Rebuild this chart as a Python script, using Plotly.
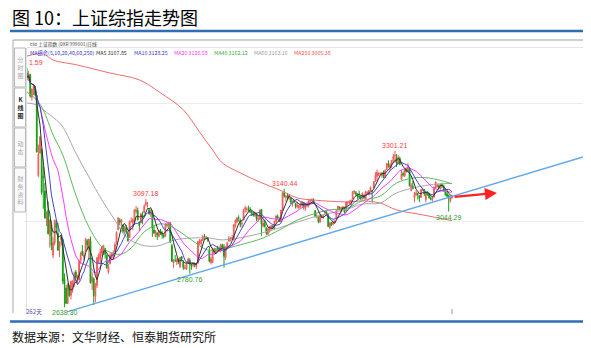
import pandas as pd
import plotly.graph_objects as go

# ---- daily OHLC of the Shanghai Composite (262 sessions) ----
opens = [
    3631, 3605, 3625, 3528, 3566, 3570, 3536, 3196, 3292, 3309,
    3194, 3131, 3011, 3050, 2940, 2988, 2860, 2911, 2995, 2952,
    2891, 2923, 2925, 2759, 2720, 2654, 2730, 2689, 2730, 2735,
    2788, 2742, 2754, 2839, 2876, 2852, 2875, 2920, 2893, 2919,
    2746, 2759, 2684, 2730, 2836, 2844, 2867, 2880, 2887, 2860,
    2789, 2823, 2846, 2857, 2874, 2911, 2968, 3006, 3000, 2988,
    2962, 2974, 2951, 2934, 3002, 2998, 2995, 3044, 3048, 2996,
    2996, 3029, 3040, 3074, 3077, 3051, 3033, 3040, 2966, 2938,
    2954, 2938, 2960, 2952, 2943, 2940, 2985, 2985, 2996, 2900,
    2827, 2838, 2833, 2840, 2810, 2853, 2830, 2804, 2800, 2830,
    2838, 2818, 2818, 2820, 2812, 2825, 2909, 2908, 2923, 2937,
    2931, 2934, 2878, 2828, 2828, 2879, 2872, 2890, 2888, 2878,
    2902, 2894, 2849, 2890, 2918, 2927, 2931, 2924, 2983, 3000,
    3018, 3006, 2993, 3009, 3052, 3053, 3057, 3046, 3041, 3036,
    3027, 3034, 3011, 3012, 3053, 2984, 2994, 2975, 2949, 2960,
    2976, 2983, 2974, 3003, 3023, 3009, 3000, 3048, 3123, 3104,
    3108, 3103, 3101, 3078, 3090, 3076, 3064, 3061, 3071, 3070,
    3082, 3058, 3069, 3070, 3088, 3090, 3093, 3048, 3020, 3018,
    3000, 3026, 3019, 3040, 3040, 3030, 2976, 2995, 2992, 2998,
    3017, 3050, 3062, 3048, 3056, 3061, 3048, 3082, 3083, 3083,
    3098, 3126, 3124, 3117, 3110, 3105, 3101, 3112, 3097, 3124,
    3120, 3135, 3129, 3143, 3172, 3192, 3201, 3203, 3198, 3209,
    3188, 3223, 3245, 3232, 3242, 3264, 3279, 3273, 3246, 3269,
    3180, 3205, 3195, 3223, 3214, 3222, 3132, 3150, 3103, 3115,
    3120, 3112, 3104, 3135, 3137, 3095, 3122, 3120, 3100, 3096,
    3105, 3143, 3150, 3153, 3140, 3158, 3150, 3128, 3118, 3113, 3090, 3102,
]
highs = [
    3651.59, 3640, 3628, 3565, 3580, 3576, 3539, 3328, 3362, 3309,
    3235, 3166, 3045, 3086, 3011, 3006, 2935, 3008, 3010, 2996,
    2918, 2939, 2929, 2781, 2733, 2739, 2734, 2750, 2753, 2790,
    2796, 2776, 2840, 2874, 2902, 2874, 2933, 2927, 2928, 2938,
    2786, 2765, 2742, 2850, 2866, 2887, 2898, 2901, 2888, 2861,
    2822, 2867, 2870, 2880, 2914, 2960, 3018, 3016, 3011, 2988,
    2982, 2987, 2960, 3006, 3019, 3016, 3055, 3068, 3061, 3003,
    3038, 3044, 3075, 3097.18, 3085, 3058, 3053, 3051, 2986, 2966,
    2954, 2965, 2970, 2962, 2949, 2993, 2999, 3000, 3000, 2908,
    2842, 2860, 2846, 2846, 2851, 2855, 2838, 2818, 2829, 2849,
    2846, 2824, 2829, 2828, 2826, 2919, 2928, 2926, 2945, 2949,
    2941, 2934, 2895, 2852, 2892, 2890, 2890, 2899, 2896, 2906,
    2908, 2906, 2896, 2916, 2940, 2936, 2945, 2990, 3011, 3020,
    3028, 3015, 3003, 3055, 3069, 3063, 3069, 3063, 3049, 3045,
    3042, 3038, 3025, 3052, 3055, 3009, 3008, 2978, 2972, 2983,
    2987, 2987, 3004, 3026, 3032, 3020, 3050, 3125, 3140.44, 3115,
    3123, 3118, 3104, 3090, 3094, 3082, 3084, 3071, 3083, 3086,
    3082, 3071, 3085, 3091, 3098, 3100, 3100, 3048, 3036, 3024,
    3032, 3030, 3029, 3048, 3046, 3032, 2998, 3000, 3002, 3009,
    3049, 3068, 3066, 3064, 3068, 3065, 3085, 3089, 3092, 3096,
    3131, 3135, 3131, 3121, 3133, 3112, 3124, 3117, 3130, 3130,
    3135, 3150, 3135, 3172, 3211, 3222, 3210, 3210, 3211, 3218,
    3223, 3248, 3261, 3251, 3262, 3288, 3301.21, 3288, 3283, 3277,
    3219, 3214, 3223, 3227, 3249, 3230, 3165, 3173, 3127, 3135,
    3125, 3114, 3138, 3146, 3140, 3124, 3130, 3124, 3107, 3108,
    3150, 3172, 3162, 3160, 3163, 3166, 3158, 3135, 3130, 3115, 3109, 3116,
]
lows = [
    3600, 3597, 3527, 3515, 3538, 3533, 3295, 3190, 3289, 3115,
    3056, 3016, 2983, 2949, 2891, 2880, 2846, 2901, 2952, 2880,
    2851, 2900, 2737, 2638.30, 2653, 2654, 2683, 2672, 2700, 2725,
    2752, 2737, 2752, 2822, 2856, 2838, 2875, 2881, 2841, 2740,
    2711, 2648, 2660, 2720, 2823, 2828, 2855, 2860, 2845, 2803,
    2780, 2820, 2839, 2847, 2868, 2904, 2965, 2985, 2983, 2951,
    2946, 2953, 2917, 2934, 2997, 2965, 2993, 3036, 3006, 2961,
    2996, 2990, 3036, 3066, 3061, 3031, 3022, 2937, 2949, 2935,
    2924, 2935, 2945, 2930, 2930, 2937, 2976, 2970, 2913, 2830,
    2806, 2830, 2817, 2821, 2805, 2833, 2797, 2799, 2797, 2826,
    2780.76, 2798, 2808, 2808, 2800, 2825, 2903, 2893, 2919, 2924,
    2927, 2916, 2829, 2820, 2828, 2861, 2868, 2878, 2874, 2871,
    2886, 2807, 2839, 2885, 2918, 2918, 2924, 2922, 2976, 2995,
    3002, 2977, 2978, 3009, 3040, 3040, 3046, 3038, 3025, 3023,
    3021, 3003, 3000, 3011, 2941, 2977, 2977, 2944, 2944, 2955,
    2964, 2970, 2968, 2998, 3012, 2999, 3000, 3046, 3103, 3086,
    3097, 3094, 3076, 3065, 3079, 3057, 3057, 3055, 3060, 3061,
    3052, 3047, 3063, 3061, 3079, 3088, 3076, 3019, 3017, 2994,
    2996, 3017, 3012, 3032, 3029, 2980, 2969, 2983, 2986, 2994,
    3016, 3049, 3050, 3040, 3049, 3037, 3046, 3070, 3075, 3072,
    3098, 3118, 3112, 3098, 3102, 3092, 3094, 3096, 3097, 3116,
    3112, 3130, 3082, 3143, 3170, 3173, 3194, 3196, 3186, 3185,
    3187, 3220, 3230, 3215, 3227, 3255, 3251, 3233, 3246, 3240,
    3180, 3192, 3190, 3209, 3210, 3151, 3132, 3139, 3083, 3110,
    3095, 3084, 3103, 3131, 3110, 3083, 3112, 3100, 3091, 3087,
    3105, 3140, 3146, 3140, 3138, 3146, 3130, 3112, 3106, 3044.29, 3082, 3098,
]
closes = [
    3612, 3627, 3533, 3563, 3573, 3539, 3296, 3287, 3361, 3125,
    3186, 3016, 3022, 2949, 3007, 2900, 2913, 3008, 2976, 2880,
    2916, 2938, 2749, 2735, 2655, 2737, 2688, 2749, 2739, 2781,
    2763, 2746, 2836, 2867, 2862, 2860, 2927, 2903, 2928, 2741,
    2767, 2688, 2733, 2849, 2859, 2874, 2897, 2901, 2863, 2805,
    2810, 2859, 2864, 2870, 2905, 2955, 3018, 2999, 3010, 2960,
    2979, 2957, 2920, 3000, 3003, 3009, 3053, 3050, 3009, 2985,
    3034, 3023, 3066, 3082, 3078, 3034, 3043, 2973, 2953, 2960,
    2946, 2964, 2954, 2945, 2938, 2992, 2991, 2998, 2913, 2833,
    2832, 2837, 2836, 2827, 2850, 2843, 2807, 2806, 2825, 2843,
    2821, 2815, 2822, 2817, 2823, 2917, 2913, 2925, 2938, 2934,
    2936, 2927, 2834, 2843, 2887, 2873, 2885, 2888, 2878, 2905,
    2892, 2854, 2895, 2912, 2931, 2930, 2933, 2988, 3007, 3017,
    3016, 2989, 2994, 3049, 3060, 3054, 3055, 3043, 3037, 3028,
    3039, 3013, 3015, 3051, 2992, 2994, 2979, 2953, 2971, 2978,
    2982, 2977, 3004, 3026, 3018, 3002, 3050, 3125, 3110, 3110,
    3104, 3108, 3085, 3089, 3085, 3068, 3070, 3070, 3075, 3085,
    3063, 3068, 3073, 3090, 3092, 3095, 3078, 3022, 3023, 3002,
    3026, 3023, 3026, 3042, 3033, 2980, 2998, 2988, 2999, 3005,
    3048, 3066, 3058, 3062, 3064, 3041, 3084, 3085, 3084, 3091,
    3129, 3129, 3117, 3112, 3105, 3100, 3123, 3102, 3129, 3125,
    3133, 3147, 3128, 3171, 3197, 3210, 3207, 3205, 3208, 3192,
    3218, 3248, 3241, 3241, 3262, 3277, 3282, 3250, 3273, 3244,
    3204, 3199, 3222, 3215, 3232, 3152, 3155, 3140, 3117, 3123,
    3118, 3103, 3137, 3139, 3120, 3122, 3114, 3102, 3096, 3104,
    3146.1, 3169, 3155, 3145, 3160, 3150, 3133.25, 3114.5, 3109, 3103, 3104.25, 3108.5,
]
assert len(opens) == len(highs) == len(lows) == len(closes) == 262
days = list(range(len(closes)))

# ---- slow moving averages as shown by the terminal ----
ma40_days = [0, 6, 10, 16, 22, 30, 38, 46, 52, 58, 64, 72, 82, 89, 101, 111, 121, 131,
             145, 155, 166, 176, 186, 197, 206, 217, 227, 237, 247, 261]
ma40_vals = [3551, 3517, 3475, 3369, 3284, 3114, 2979, 2894, 2869, 2864, 2890, 2958, 2992,
             2979, 2924, 2881, 2886, 2903, 2932, 2966, 3008, 3034, 3051, 3059, 3090, 3110,
             3165, 3186, 3186, 3162.12]
ma60_days = [0, 6, 10, 18, 22, 30, 38, 46, 54, 61, 70, 80, 91, 101, 112, 120, 137, 155,
             176, 197, 206, 217, 227, 247, 261]
ma60_vals = [3504, 3496, 3475, 3432, 3403, 3292, 3191, 3093, 3008, 2936, 2903, 2898, 2924,
             2932, 2932, 2924, 2941, 2975, 3021, 3055, 3076, 3080, 3123, 3157, 3163.16]
ma250_days = [0, 10, 16, 31, 51, 69, 82, 96, 106, 114, 120, 131, 143, 155, 166, 176, 197,
              206, 217, 227, 243, 261]
ma250_vals = [3703, 3712, 3686, 3665, 3631, 3602, 3547, 3475, 3381, 3305, 3250, 3208, 3169,
              3136, 3102, 3093, 3085, 3089, 3080, 3051, 3030, 3005.38]

# ---- support line and projected move ----
trend_days = [24.6, 341.5]
trend_prices = [2619, 3275]
arrow_days = [261.7, 288.7]
arrow_prices = [3106, 3123]

peak_days = [0, 73, 158, 226]
trough_days = [23, 100, 259]

# ---- fast moving averages from the closes ----
s = pd.Series(closes)
ma5 = s.rolling(5, min_periods=1).mean()
ma10 = s.rolling(10, min_periods=1).mean()
ma20 = s.rolling(20, min_periods=1).mean()

W, H = 591, 348
L, R, T, B = 24, 583, 40, 318


def fx(px):
    return (px - L) / (R - L)


def fy(py):
    return (B - py) / (B - T)


CJK = "Noto Sans CJK SC"
RED_UP = "#f05a5a"
GREEN_DN = "#10a010"

fig = go.Figure()

fig.add_trace(go.Candlestick(
    x=days, open=opens, high=highs, low=lows, close=closes,
    increasing=dict(line=dict(color=RED_UP, width=1), fillcolor="#f58c8c"),
    decreasing=dict(line=dict(color=GREEN_DN, width=1), fillcolor=GREEN_DN),
    whiskerwidth=0, showlegend=False, hoverinfo="skip",
))

line_specs = [
    (ma250_days, ma250_vals, "#f26b6b", True),
    (ma60_days, ma60_vals, "#a8a8a8", True),
    (ma40_days, ma40_vals, "#5cb85c", True),
    (days, ma20, "#ff3cff", False),
    (days, ma10, "#4646c8", False),
    (days, ma5, "#303030", False),
]
for xs, ys, col, smooth in line_specs:
    fig.add_trace(go.Scatter(
        x=xs, y=ys, mode="lines",
        line=dict(color=col, width=1, shape="spline" if smooth else "linear"),
        showlegend=False, hoverinfo="skip",
    ))

fig.add_trace(go.Scatter(
    x=trend_days, y=trend_prices, mode="lines",
    line=dict(color="#62a8f0", width=1.5), showlegend=False, hoverinfo="skip",
))

annotations = []
for i, d in enumerate(peak_days):
    txt = f"{highs[d]:.2f}"
    if i == 0:
        annotations.append(dict(x=d, y=highs[d], xref="x", yref="y", text=txt[-4:],
                                showarrow=False, xanchor="left", yanchor="bottom",
                                yshift=0, font=dict(size=7, color="#ff4040",
                                                    family="Liberation Sans")))
    else:
        annotations.append(dict(x=d, y=highs[d], xref="x", yref="y", text=txt,
                                showarrow=False, xanchor="center", yanchor="bottom",
                                yshift=0, font=dict(size=7, color="#ff4040",
                                                    family="Liberation Sans")))
for d in trough_days:
    annotations.append(dict(x=d, y=lows[d], xref="x", yref="y", text=f"{lows[d]:.2f}",
                            showarrow=False, xanchor="center", yanchor="top", yshift=0,
                            font=dict(size=7, color="#30a030", family="Liberation Sans")))

# projected move arrow
annotations.append(dict(x=arrow_days[1], y=arrow_prices[1], ax=arrow_days[0],
                        ay=arrow_prices[0], xref="x", yref="y", axref="x", ayref="y",
                        text="", showarrow=True, arrowhead=2, arrowsize=1.1,
                        arrowwidth=2.2, arrowcolor="#ff2020"))

# page title and source
annotations.append(dict(x=fx(10), y=fy(16.5), xref="paper", yref="paper",
                        text="图 10：上证综指走势图", showarrow=False, xanchor="left",
                        yanchor="middle", font=dict(size=18, color="#000000", family=CJK)))
annotations.append(dict(x=fx(10), y=fy(336), xref="paper", yref="paper",
                        text="数据来源：文华财经、恒泰期货研究所", showarrow=False,
                        xanchor="left", yanchor="middle",
                        font=dict(size=12, color="#111111", family=CJK)))

# terminal header rows
annotations.append(dict(x=fx(28), y=fy(44), xref="paper", yref="paper",
                        text="cto 上证指数 (0XR 999001)日线", showarrow=False,
                        xanchor="left", yanchor="middle",
                        font=dict(size=4.8, color="#444444", family=CJK)))
header_items = [
    (28, "MA组合(5,10,20,40,60,250)", "#3c3cc8"),
    (94, f"MA5 {ma5.iloc[-1]:.2f}", "#303030"),
    (132, f"MA10 {ma10.iloc[-1]:.2f}", "#3c3cc8"),
    (172, f"MA20 {ma20.iloc[-1]:.2f}", "#ff30ff"),
    (212, f"MA40 {ma40_vals[-1]:.2f}", "#3aaa3a"),
    (252, f"MA60 {ma60_vals[-1]:.2f}", "#999999"),
    (292, f"MA250 {ma250_vals[-1]:.2f}", "#ff5050"),
]
for px, txt, col in header_items:
    annotations.append(dict(x=fx(px), y=fy(52.5), xref="paper", yref="paper", text=txt,
                            showarrow=False, xanchor="left", yanchor="middle",
                            font=dict(size=5.3, color=col, family=CJK)))

annotations.append(dict(x=fx(24), y=fy(311), xref="paper", yref="paper",
                        text=f"{len(closes)}天", showarrow=False, xanchor="left",
                        yanchor="middle", font=dict(size=6, color="#5050b0", family=CJK)))

# side tabs
shapes = []
tabs = [("分时图", 48, 87, False), ("K线图", 88, 127, True),
        ("动态", 128, 167, False), ("财务资料", 168, 212, False)]
for name, y0, y1, active in tabs:
    shapes.append(dict(type="rect", xref="paper", yref="paper", x0=fx(14.5), x1=fx(25.5),
                       y0=fy(y1), y1=fy(y0), line=dict(color="#b8b8b8", width=1),
                       fillcolor="#ffffff" if active else "#fafafa", layer="above"))
    annotations.append(dict(x=fx(20), y=fy((y0 + y1) / 2), xref="paper", yref="paper",
                            text=("<b>" + "<br>".join(name) + "</b>") if active
                            else "<br>".join(name),
                            showarrow=False, xanchor="center", yanchor="middle",
                            width=9,
                            font=dict(size=6, color="#222222" if active else "#a8a8a8",
                                      family=CJK)))

# frame lines
shapes += [
    dict(type="line", xref="paper", yref="paper", x0=fx(10), x1=fx(583), y0=fy(31),
         y1=fy(31), line=dict(color="#2f6db5", width=2.5)),
    dict(type="line", xref="paper", yref="paper", x0=fx(10), x1=fx(583), y0=fy(321.5),
         y1=fy(321.5), line=dict(color="#2f6db5", width=2.5)),
    dict(type="line", xref="paper", yref="paper", x0=fx(13), x1=fx(583), y0=fy(40),
         y1=fy(40), line=dict(color="#a0a0a0", width=1.2)),
    dict(type="line", xref="paper", yref="paper", x0=fx(27), x1=fx(583), y0=fy(47.5),
         y1=fy(47.5), line=dict(color="#e6e6e6", width=1)),
    dict(type="line", xref="paper", yref="paper", x0=fx(13), x1=fx(13), y0=fy(40),
         y1=fy(313), line=dict(color="#a8a8a8", width=1)),
    dict(type="line", xref="paper", yref="paper", x0=fx(26.5), x1=fx(26.5), y0=fy(48),
         y1=fy(313), line=dict(color="#e0e0e0", width=1)),
    dict(type="line", xref="x", yref="paper", x0=days[-1], x1=days[-1], y0=fy(309),
         y1=fy(314), line=dict(color="#999999", width=1)),
]

fig.update_layout(
    width=W, height=H,
    margin=dict(l=L, r=W - R, t=T, b=H - B),
    paper_bgcolor="#ffffff", plot_bgcolor="#ffffff",
    showlegend=False,
    annotations=annotations, shapes=shapes,
    xaxis=dict(range=[-1.84, 341.5], showticklabels=False, showgrid=False,
               zeroline=False, showline=False, ticks="", rangeslider=dict(visible=False),
               fixedrange=True),
    yaxis=dict(range=[2593, 3771], showticklabels=False, tickvals=[3000, 3500],
               showgrid=True, gridcolor="#ececec", gridwidth=1, zeroline=False,
               showline=False, ticks="", fixedrange=True),
)

fig.write_html("out.html")
